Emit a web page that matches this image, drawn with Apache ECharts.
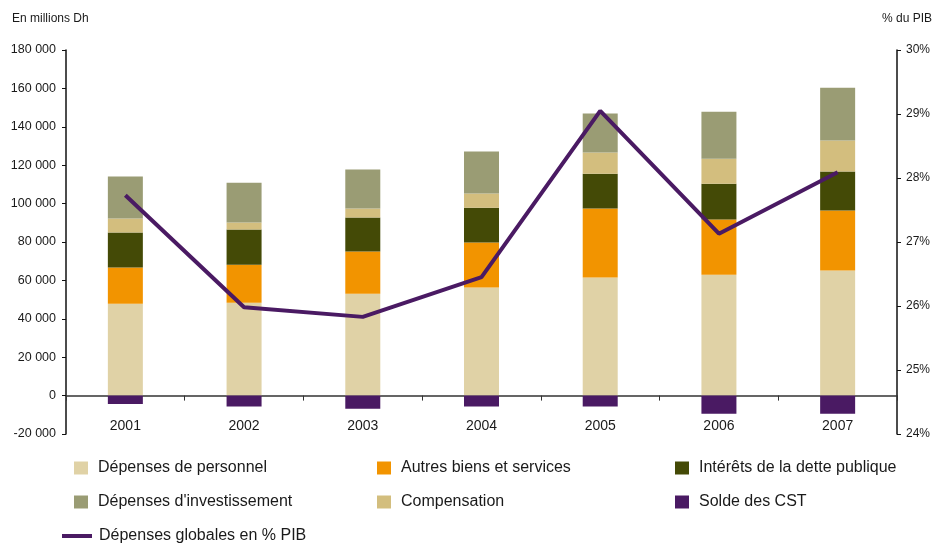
<!DOCTYPE html>
<html>
<head>
<meta charset="utf-8">
<script src="https://cdn.jsdelivr.net/npm/echarts@6/dist/echarts.min.js"></script>
<style>
  html, body { margin: 0; padding: 0; background: #fff; }
  #chart { width: 935px; height: 544px; }
</style>
</head>
<body>
<div id="chart"></div>
<script>
// Budget spending by category (millions Dh) and total spending as % of GDP
const years = ['2001', '2002', '2003', '2004', '2005', '2006', '2007'];
const personnel     = [47900, 48400, 53100, 56300, 61500, 63000, 65100];
const autresBiens   = [18800, 19800, 21900, 23400, 35900, 28700, 31300];
const interets      = [18200, 18300, 17700, 18200, 18200, 18700, 20300];
const compensation  = [7300, 3600, 4700, 7300, 11000, 13000, 16100];
const investissement= [21900, 20800, 20300, 21900, 20300, 24500, 27600];
const soldeCST      = [-4400, -5700, -6800, -5700, -5700, -9400, -9400];
const pctPIB        = [27.73, 25.98, 25.83, 26.45, 29.05, 27.13, 28.09];

const FONT = "'Liberation Sans', Arial, sans-serif";
const TXT = '#1a1a1a';

const colors = {
  personnel: '#e0d2a6',
  autres: '#f29400',
  interets: '#444a06',
  invest: '#9a9c74',
  comp: '#d3be7e',
  solde: '#4a1a63',
  line: '#4a1a63'
};

function fmtThousands(v) {
  const s = Math.abs(v).toString().replace(/\B(?=(\d{3})+(?!\d))/g, ' ');
  return (v < 0 ? '-' : '') + s;
}

const barW = 35;
function barSeries(name, data, color) {
  return {
    name, type: 'bar', stack: 'total', data, barWidth: barW,
    itemStyle: { color }, yAxisIndex: 0
  };
}

// legend entries: [name, left, top, isLine]
const legendItems = [
  ['Dépenses de personnel', 74, 460, false],
  ['Autres biens et services', 377, 460, false],
  ['Intérêts de la dette publique', 675, 460, false],
  ["Dépenses d'investissement", 74, 494, false],
  ['Compensation', 377, 494, false],
  ['Solde des CST', 675, 494, false],
  ['Dépenses globales en % PIB', 62, 528, true]
];

const legends = legendItems.map(([name, left, top, isLine]) => ({
  data: [{ name, icon: 'rect' }],
  left, top,
  itemWidth: isLine ? 30 : 14,
  itemHeight: isLine ? 4 : 13,
  itemGap: 0,
  padding: 0,
  selectedMode: false,
  textStyle: { fontFamily: FONT, fontSize: 16, color: TXT, padding: [0, 0, 0, isLine ? 2 : 5] }
}));

const chart = echarts.init(document.getElementById('chart'), null, { renderer: 'canvas' });
chart.setOption({
  animation: false,
  backgroundColor: '#fff',
  textStyle: { fontFamily: FONT },
  grid: { left: 66, right: 38, top: 50, bottom: 110 },
  legend: legends,
  graphic: [
    { type: 'text', left: 12, top: 13,
      style: { text: 'En millions Dh', font: '12px ' + FONT, fill: TXT } },
    { type: 'text', right: 3, top: 13,
      style: { text: '% du PIB', font: '12px ' + FONT, fill: TXT } }
  ],
  xAxis: {
    type: 'category', data: years,
    axisLine: { onZero: true, onZeroAxisIndex: 0, lineStyle: { color: '#333', width: 1.5 } },
    axisTick: { show: true, length: 5, lineStyle: { color: '#333' } },
    axisLabel: { margin: -15, fontSize: 14, color: TXT, fontFamily: FONT },
    splitLine: { show: false }
  },
  yAxis: [
    {
      type: 'value', min: -20000, max: 180000, interval: 20000,
      axisLine: { show: true, lineStyle: { color: '#111', width: 1.5 } },
      axisTick: { show: true, length: 4, lineStyle: { color: '#111' } },
      axisLabel: { fontSize: 12.5, color: TXT, fontFamily: FONT, margin: 10, formatter: fmtThousands },
      splitLine: { show: false }
    },
    {
      type: 'value', min: 24, max: 30, interval: 1, position: 'right',
      axisLine: { show: true, lineStyle: { color: '#111', width: 1.5 } },
      axisTick: { show: true, length: 4, lineStyle: { color: '#111' } },
      axisLabel: { fontSize: 12, color: TXT, fontFamily: FONT, margin: 9, formatter: '{value}%' },
      splitLine: { show: false }
    }
  ],
  series: [
    barSeries('Dépenses de personnel', personnel, colors.personnel),
    barSeries('Autres biens et services', autresBiens, colors.autres),
    barSeries('Intérêts de la dette publique', interets, colors.interets),
    barSeries('Compensation', compensation, colors.comp),
    barSeries("Dépenses d'investissement", investissement, colors.invest),
    barSeries('Solde des CST', soldeCST, colors.solde),
    {
      name: 'Dépenses globales en % PIB', type: 'line', yAxisIndex: 1,
      data: pctPIB, symbol: 'none', z: 5,
      lineStyle: { color: colors.line, width: 4 },
      itemStyle: { color: colors.line }
    }
  ]
});
</script>
</body>
</html>
